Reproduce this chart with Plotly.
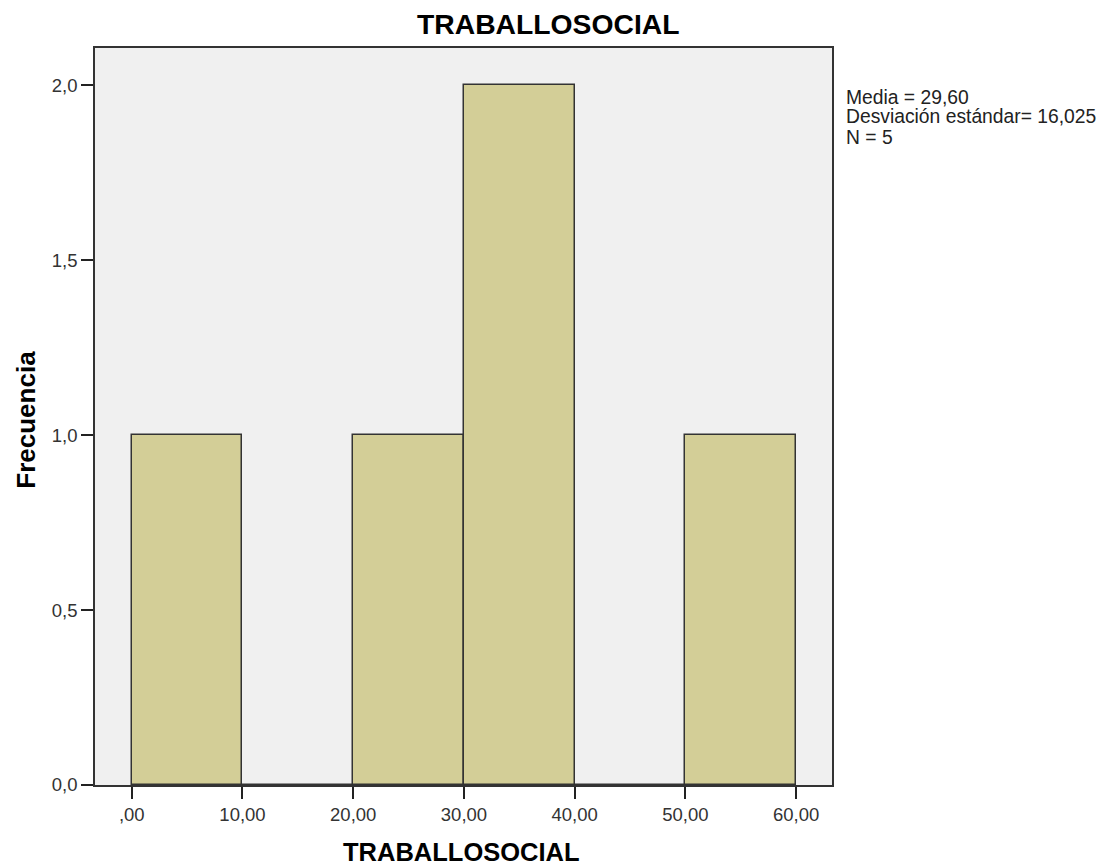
import plotly.graph_objects as go

bin_starts = [0, 10, 20, 30, 40, 50]
counts = [1, 0, 1, 2, 0, 1]
bin_width = 10
x_tick_vals = [0, 10, 20, 30, 40, 50, 60]
x_tick_text = [",00", "10,00", "20,00", "30,00", "40,00", "50,00", "60,00"]
y_tick_vals = [0, 0.5, 1.0, 1.5, 2.0]
y_tick_text = ["0,0", "0,5", "1,0", "1,5", "2,0"]
stats_lines = ["Media = 29,60", "Desviación estándar= 16,025", "N = 5"]
title = "TRABALLOSOCIAL"
y_title = "Frecuencia"

FONT = "Liberation Sans, Arial, sans-serif"

fig = go.Figure()
fig.add_trace(go.Bar(
    x=bin_starts, y=counts, width=[bin_width] * len(bin_starts), offset=0,
    marker=dict(color="#D3CE97", line=dict(color="#333333", width=1.5)),
    showlegend=False, hoverinfo="skip",
))

# page body has an 8px margin; figure is sized so it fits inside the 1105x866 window
fig.update_layout(
    width=1097, height=858,
    margin=dict(l=87, r=273, t=40, b=81),
    paper_bgcolor="white", plot_bgcolor="#F0F0F0",
    font=dict(family=FONT, size=18, color="#333333"),
    bargap=0,
)
fig.update_xaxes(
    range=[-3.32, 63.24], tickvals=x_tick_vals, ticktext=x_tick_text,
    ticks="outside", ticklen=12, tickwidth=1.5, tickcolor="#222222",
    showline=True, linecolor="#333333", linewidth=1.5, mirror=True,
    showgrid=False, zeroline=False,
    tickfont=dict(family=FONT, size=18.5, color="#333333"),
)
fig.update_yaxes(
    range=[0, 2.106], tickvals=y_tick_vals, ticktext=y_tick_text,
    ticks="outside", ticklen=12, tickwidth=1.5, tickcolor="#222222",
    showline=True, linecolor="#333333", linewidth=1.5, mirror=True,
    showgrid=False, zeroline=False,
    tickfont=dict(family=FONT, size=18.5, color="#333333"),
)

# chart title
fig.add_annotation(text="<b>" + title + "</b>", xref="paper", yref="paper",
                   x=0.6147, y=1.0326, xanchor="center", yanchor="middle", showarrow=False,
                   font=dict(family=FONT, size=28.3, color="black"))
# x axis title
fig.add_annotation(text="<b>" + title + "</b>", xref="paper", yref="paper",
                   x=0.4973, y=-0.0909, xanchor="center", yanchor="middle", showarrow=False,
                   font=dict(family=FONT, size=25.5, color="black"))
# y axis title
fig.add_annotation(text="<b>" + y_title + "</b>", xref="paper", yref="paper",
                   x=-0.094, y=0.4953, xanchor="center", yanchor="middle", showarrow=False,
                   textangle=-90, font=dict(family=FONT, size=26, color="black"))
# statistics box
stat_y = [0.9335, 0.9064, 0.8792]
for line, yy in zip(stats_lines, stat_y):
    fig.add_annotation(text=line, xref="paper", yref="paper",
                       x=1.016, y=yy, xanchor="left", yanchor="middle", showarrow=False,
                       font=dict(family=FONT, size=19.3, color="#222222"))

fig.write_html("out.html")
